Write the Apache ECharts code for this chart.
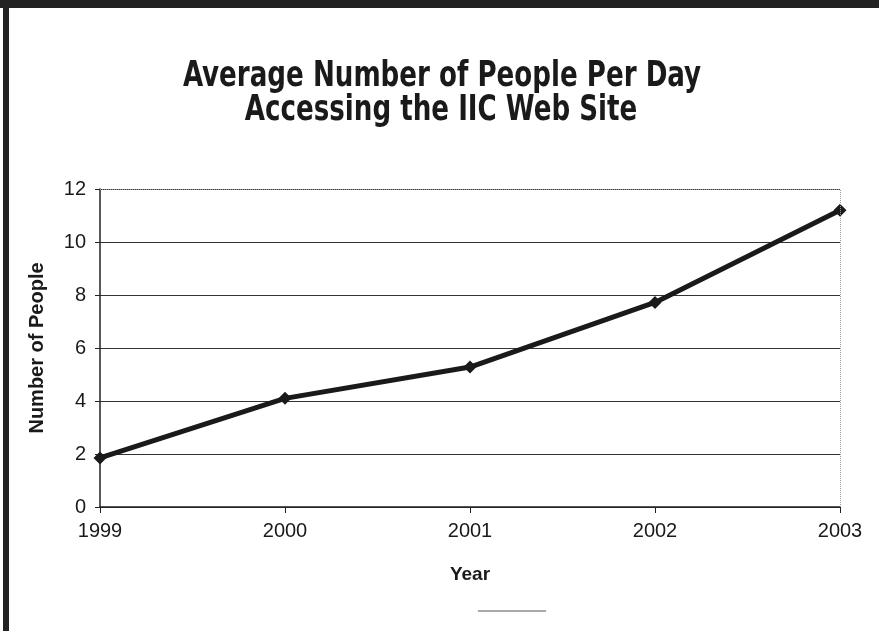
<!DOCTYPE html>
<html><head><meta charset="utf-8">
<script src="https://cdn.jsdelivr.net/npm/echarts@6/dist/echarts.min.js"></script>
<style>html,body{margin:0;padding:0;background:#fff}#c{width:879px;height:631px}</style>
</head><body><div id="c"></div>
<script>
var years = ['1999', '2000', '2001', '2002', '2003'];
var people = [1.85, 4.1, 5.28, 7.72, 11.2];
var yTicks = [0, 2, 4, 6, 8, 10, 12];
var titleLines = ['Average Number of People Per Day', 'Accessing the IIC Web Site'];

var titleFont = 'bold 35px "DejaVu Sans Condensed", "Liberation Sans Narrow", sans-serif';
var chart = echarts.init(document.getElementById('c'));
chart.setOption({
  backgroundColor: '#fff',
  animation: false,
  graphic: [
    {type: 'rect', shape: {x: 0, y: 0, width: 879, height: 8}, style: {fill: '#222'}},
    {type: 'rect', shape: {x: 3, y: 0, width: 6, height: 631}, style: {fill: '#222'}},
    {type: 'line', shape: {x1: 478, y1: 611, x2: 546, y2: 611}, style: {stroke: '#555', lineWidth: 1}},
    {type: 'text', x: 442, y: 77, scaleX: 0.83, style: {text: titleLines[0], font: titleFont, fill: '#1a1a1a', align: 'center', verticalAlign: 'middle'}},
    {type: 'text', x: 441, y: 111, scaleX: 0.83, style: {text: titleLines[1], font: titleFont, fill: '#1a1a1a', align: 'center', verticalAlign: 'middle'}}
  ],
  grid: {left: 100, right: 39, top: 189, bottom: 124, containLabel: false},
  xAxis: {
    type: 'category', data: years, boundaryGap: false,
    name: 'Year', nameLocation: 'middle', nameGap: 58,
    nameTextStyle: {fontFamily: 'Liberation Sans, Arial, sans-serif', fontWeight: 'bold', fontSize: 19, color: '#1a1a1a'},
    axisLine: {lineStyle: {color: '#222', width: 1.5}},
    axisTick: {show: true, alignWithLabel: true, length: 6, lineStyle: {color: '#222'}},
    axisLabel: {fontFamily: 'Liberation Sans, Arial, sans-serif', fontSize: 20, color: '#1a1a1a', margin: 14},
    splitLine: {show: false}
  },
  yAxis: {
    type: 'value', min: yTicks[0], max: yTicks[yTicks.length - 1], interval: 2,
    name: 'Number of People', nameLocation: 'middle', nameGap: 53,
    nameTextStyle: {fontFamily: 'Liberation Sans, Arial, sans-serif', fontWeight: 'bold', fontSize: 20, color: '#1a1a1a'},
    axisLine: {show: true, lineStyle: {color: '#222', width: 1.5}},
    axisTick: {show: true, length: 5, lineStyle: {color: '#222'}},
    axisLabel: {fontFamily: 'Liberation Sans, Arial, sans-serif', fontSize: 20, color: '#1a1a1a', margin: 14},
    splitLine: {show: true, lineStyle: {color: '#333', width: 1.2}}
  },
  series: [
    {type: 'line', data: people, symbol: 'diamond', symbolSize: 13,
     lineStyle: {color: '#1a1a1a', width: 5}, itemStyle: {color: '#1a1a1a'}},
    {type: 'line', data: [], markLine: {silent: true, symbol: 'none', label: {show: false},
      lineStyle: {color: '#999', type: 'dotted', width: 1},
      data: [{yAxis: 12}, {xAxis: '2003'}]}}
  ]
});
</script></body></html>
